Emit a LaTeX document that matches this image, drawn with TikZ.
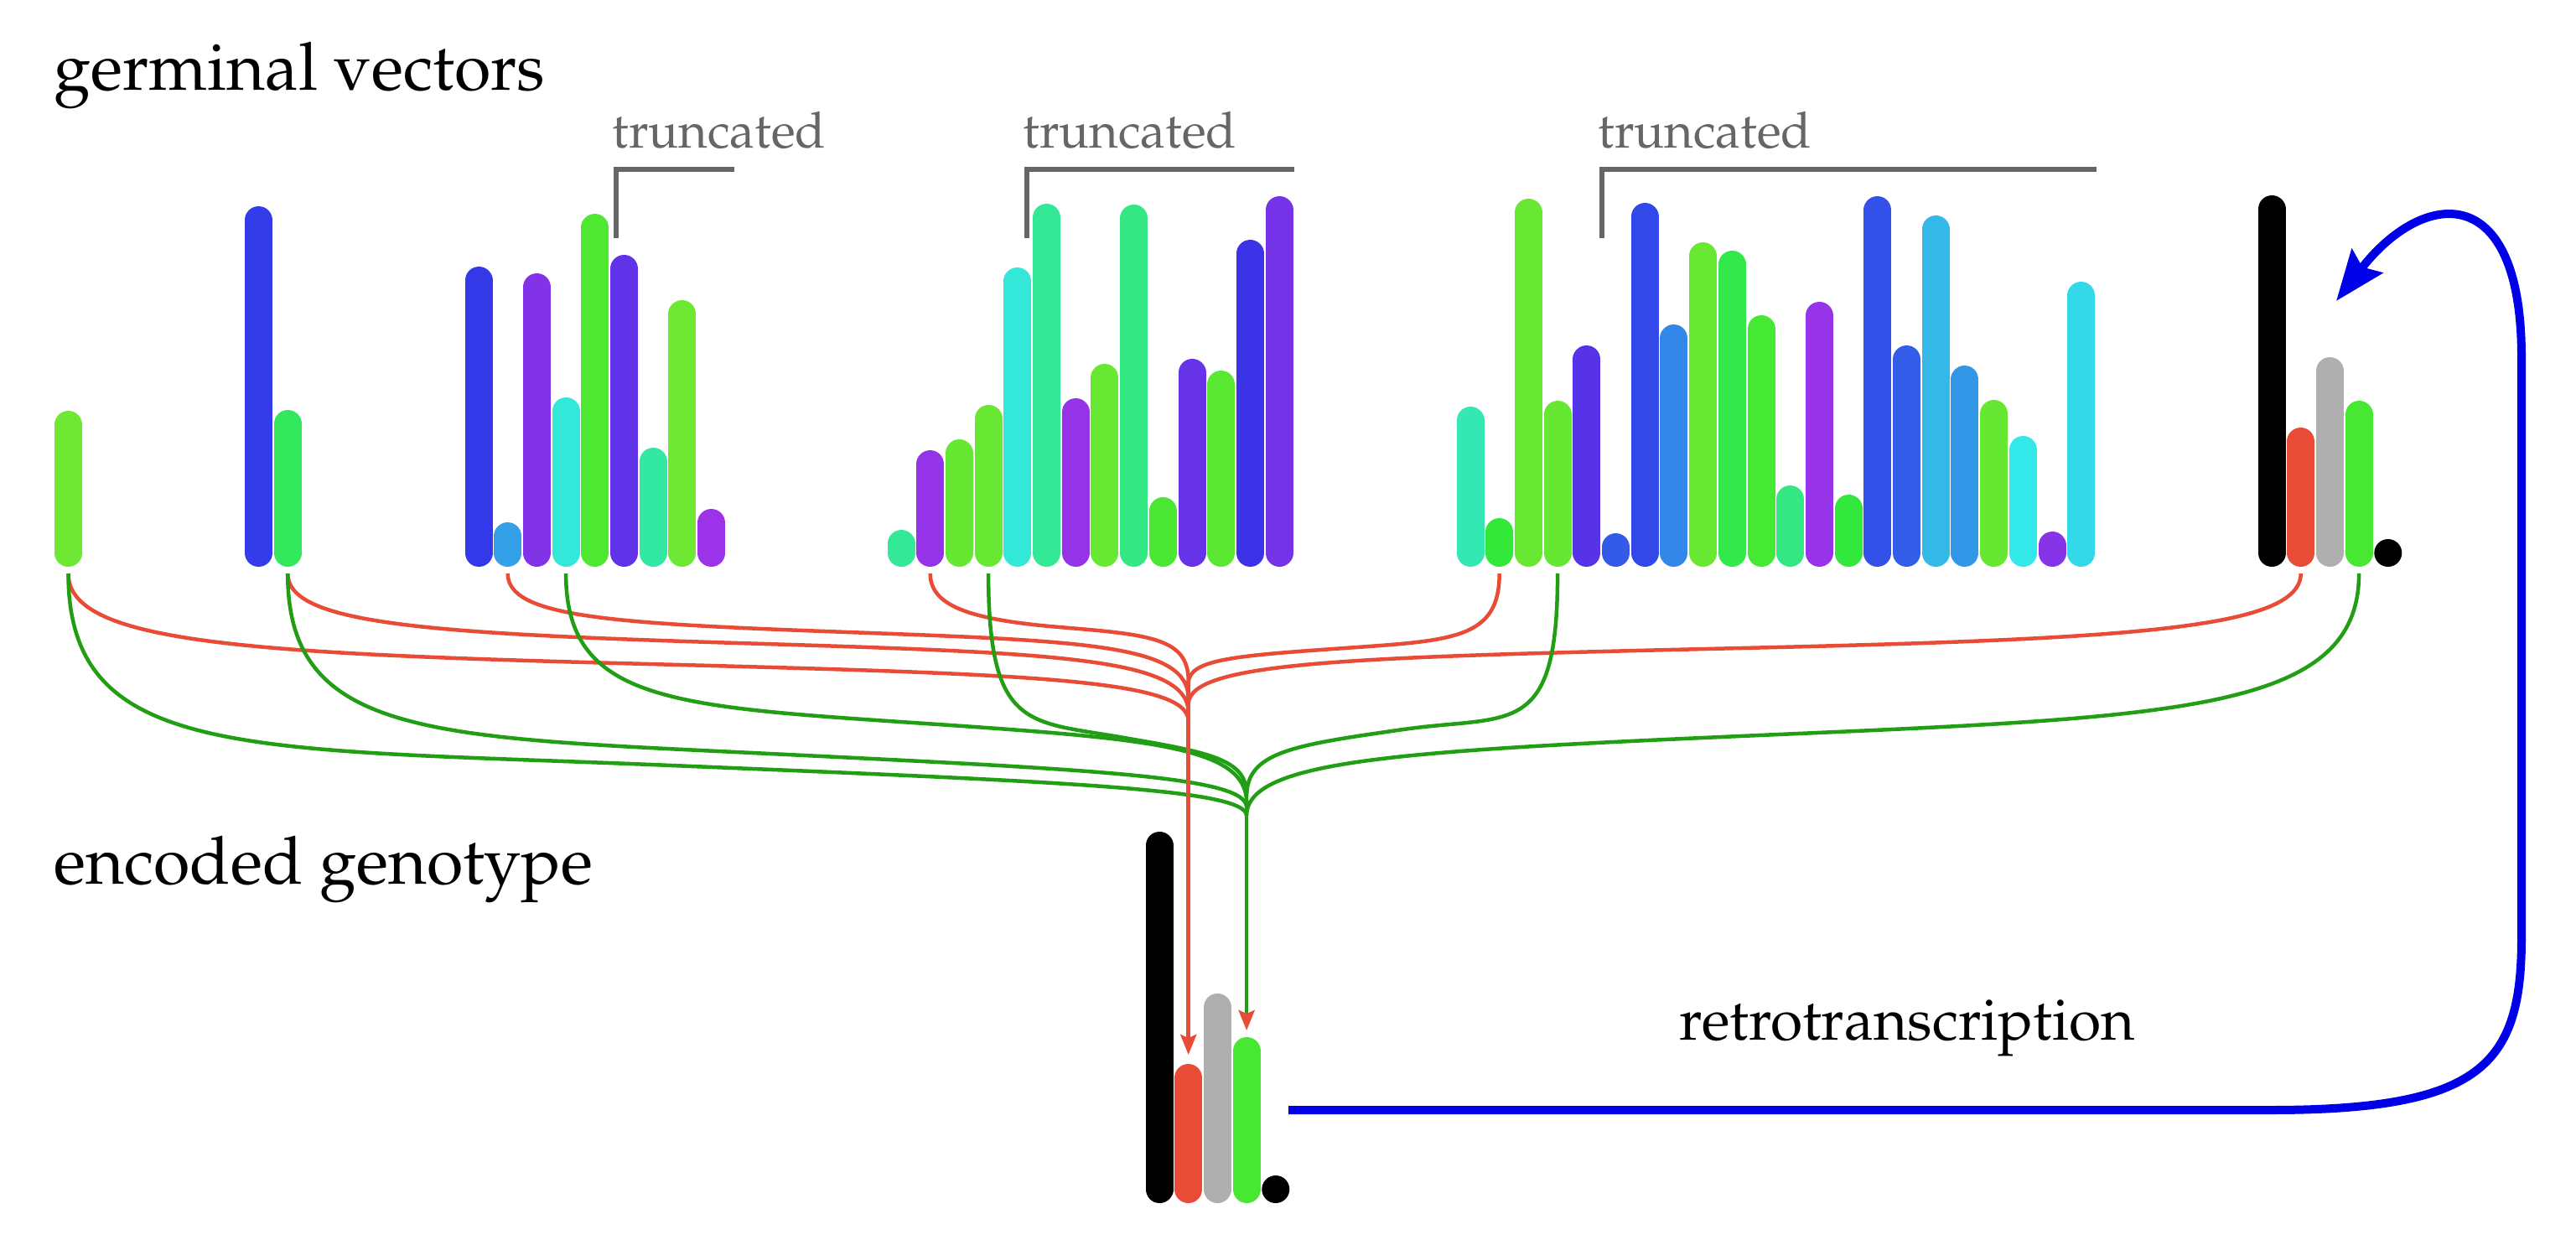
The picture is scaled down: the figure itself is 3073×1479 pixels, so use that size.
\documentclass[tikz,border=0pt]{standalone}
\usepackage[T1]{fontenc}
\usepackage{mathpazo}
\usetikzlibrary{arrows.meta,calc}
\definecolor{lnred}{RGB}{232,76,54}
\definecolor{lngreen}{RGB}{33,158,19}
\definecolor{lnblue}{RGB}{0,0,232}
\definecolor{trgray}{RGB}{102,102,102}
\definecolor{genegray}{RGB}{175,175,175}
\definecolor{genegreen}{RGB}{72,232,50}
% one row of vectors: first x, list of top/hue
\newcommand{\vecgroup}[2]{%
    \foreach \tp/\hu [count=\i from 0] in {#2} {
        \definecolor{barcol}{Hsb}{\hu,0.78,0.91}
        \draw[bar, barcol] ({#1+34.7*\i},659.5) -- ({#1+34.7*\i},{\tp+16.5});
    }
}
% black / red / gray / green / end dot
\newcommand{\genotype}{%
    \draw[bar, black] (0,659.5) -- (0,249.5);
    \draw[bar, lnred] (34.7,659.5) -- (34.7,526.5);
    \draw[bar, genegray] (69.4,659.5) -- (69.4,442.5);
    \draw[bar, genegreen] (104.1,659.5) -- (104.1,494.5);
    \fill[black] (138.8,659.5) circle (16.5);
}
% gene line from a vector down to the genotype
\newcommand{\geneline}[5]{%
    \draw[#1] let \p1=(#2), \p2=(#3) in (#2)
        .. controls (\x1,{\y1+#4*(\y2-\y1)}) and ({\x1+0.15*(\x2-\x1)},{\y1+(#5-0.07)*(\y2-\y1)})
        .. ({\x1+0.5*(\x2-\x1)},{\y1+#5*(\y2-\y1)})
        .. controls ({\x1+0.85*(\x2-\x1)},{\y1+(#5+0.07)*(\y2-\y1)}) and (\x2,{\y1+(#5+0.1)*(\y2-\y1)})
        .. (#3);
}

\begin{document}
\begin{tikzpicture}[x=0.1mm, y=-0.1mm,
    bar/.style={line width=3.3mm, line cap=round},
    redline/.style={lnred, line width=0.45mm},
    greenline/.style={lngreen, line width=0.45mm},
    bracket/.style={trgray, line width=0.6mm},
    label/.style={inner sep=0pt, anchor=base west, font=\fontsize{22.5}{27}\selectfont},
    trlabel/.style={inner sep=0pt, anchor=base west, text=trgray, font=\fontsize{17}{20}\selectfont},
    tip/.style={-{Stealth[length=2.4mm, width=1.9mm, inset=0.4mm, color=lnred]}}]
    \useasboundingbox (0,0) rectangle (3073,1479);

    \node[label] (germ) at (64,107) {germinal vectors};
    \node[label] (enc) at (64,1054) {encoded genotype};

    % germinal vectors
    \vecgroup{81.5}{490/100}
    \vecgroup{308.5}{246/237, 489/134}
    \vecgroup{571}{318/238, 623/204, 326/266, 474/175, 255/111, 304/255, 534/157, 358/100, 607/275}
    \vecgroup{1075}{632/153, 537/272, 524/103, 483/102, 319/175, 243/153, 475/272, 434/102,
        244/146, 593/112, 428/257, 442/107, 286/243, 234/262}
    \vecgroup{1754}{485/162, 618/122, 237/102, 478/103, 412/252, 636/227, 242/233, 387/212,
        289/102, 299/128, 376/114, 579/146, 360/273, 590/123, 234/230, 412/226, 257/196,
        436/207, 477/103, 520/180, 634/268, 336/185}
    \begin{scope}[shift={(2710,0)}]
        \genotype
    \end{scope}

    % truncated parts
    \draw[bracket] (735,284) -- (735,202) -- (876,202);
    \draw[bracket] (1225,284) -- (1225,202) -- (1544,202);
    \draw[bracket] (1911,284) -- (1911,202) -- (2501,202);
    \node[trlabel] (tr1) at (730,176) {truncated};
    \node[trlabel] (tr2) at (1220,176) {truncated};
    \node[trlabel] (tr3) at (1906,176) {truncated};

    % encoded genotype
    \begin{scope}[shift={(1383,759)}]
        \genotype
    \end{scope}

    \coordinate (v1) at (81.5,684);
    \coordinate (v2) at (343.2,684);
    \coordinate (v3r) at (605.7,684);
    \coordinate (v3g) at (675.1,684);
    \coordinate (v4r) at (1109.7,684);
    \coordinate (v4g) at (1179.1,684);
    \coordinate (v5r) at (1788.7,684);
    \coordinate (v5g) at (1858.1,684);
    \coordinate (v6r) at (2744.7,684);
    \coordinate (v6g) at (2814.1,684);

    \coordinate (jr1) at (1417.7,860);
    \coordinate (jr2) at (1417.7,850);
    \coordinate (jr3) at (1417.7,833);
    \coordinate (jr4) at (1417.7,812);
    \coordinate (jr5) at (1417.7,815);
    \coordinate (jr6) at (1417.7,840);
    \coordinate (jg1) at (1487.1,973);
    \coordinate (jg2) at (1487.1,963);
    \coordinate (jg3) at (1487.1,957);
    \coordinate (jg4) at (1487.1,947);
    \coordinate (jg5) at (1487.1,950);
    \coordinate (jg6) at (1487.1,973);
    \coordinate (rin) at (1417.7,1258);
    \coordinate (gin) at (1487.1,1229);

    \geneline{redline}{v1}{jr1}{0.46}{0.61}
    \geneline{redline}{v2}{jr2}{0.36}{0.50}
    \geneline{redline}{v3r}{jr3}{0.35}{0.47}
    \geneline{redline}{v4r}{jr4}{0.30}{0.50}
    \geneline{redline}{v5r}{jr5}{0.60}{0.68}
    \geneline{redline}{v6r}{jr6}{0.42}{0.57}
    \geneline{greenline}{v1}{jg1}{0.77}{0.79}
    \geneline{greenline}{v2}{jg2}{0.70}{0.77}
    \geneline{greenline}{v3g}{jg3}{0.55}{0.65}
    \geneline{greenline}{v4g}{jg4}{0.70}{0.74}
    \geneline{greenline}{v5g}{jg5}{0.75}{0.70}
    \geneline{greenline}{v6g}{jg6}{0.55}{0.66}
    \draw[redline, tip] (jr4) -- (rin);
    \draw[greenline, tip] (jg4) -- (gin);

    % retrotranscription
    \coordinate (out) at (1537,1324);
    \coordinate (back) at (2787,359);
    \draw[lnblue, line width=1mm, -{Stealth[length=6mm, width=4.6mm, inset=0.9mm]}]
        (out) -- (2708,1324) .. controls (2960,1324) and (3008,1270) .. (3008,1119)
        -- (3008,426) .. controls (3008,212) and (2890,226) .. (back);
    \node[inner sep=0pt, anchor=base west, font=\fontsize{19.8}{24}\selectfont] (retro) at (2003,1240) {retrotranscription};
\end{tikzpicture}
\end{document}
